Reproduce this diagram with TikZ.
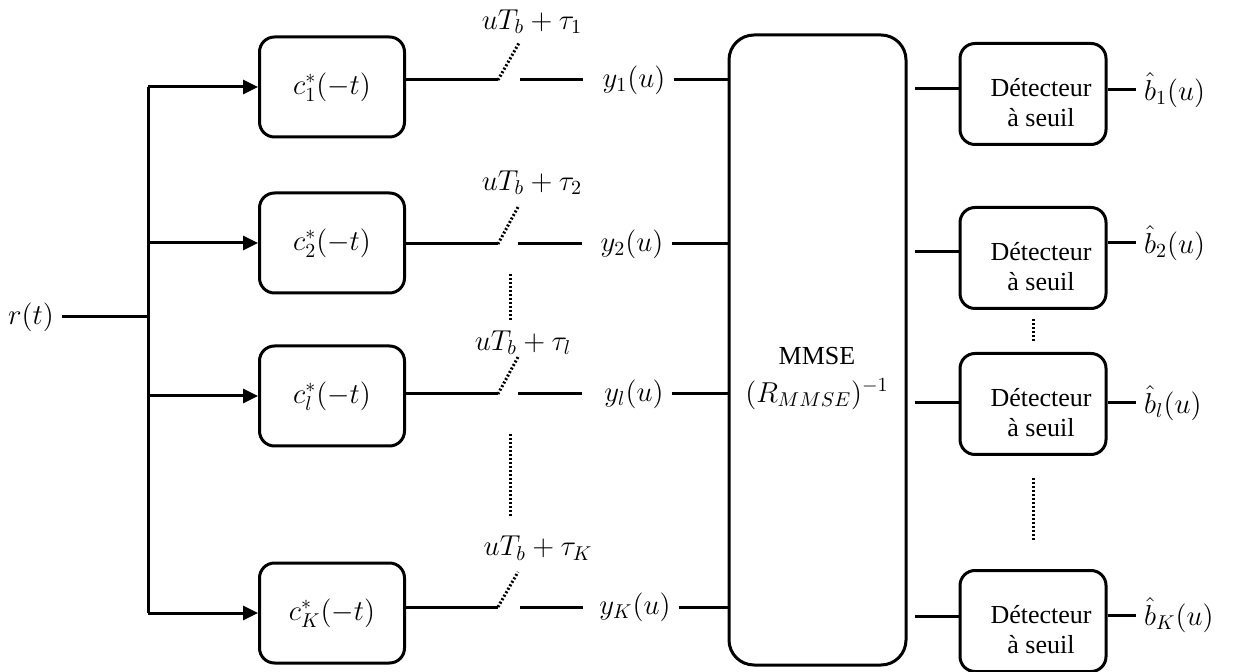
\documentclass[tikz,border=0pt]{standalone}
\usepackage{fontspec}
\setmainfont{Liberation Serif}
\usetikzlibrary{arrows.meta}

\begin{document}
\begin{tikzpicture}[x=0.5pt, y=-0.5pt, line width=1.5pt, font=\fontsize{13}{15}\selectfont,
		eq/.style={font=\fontsize{14.4}{17}\selectfont},
		filt/.style={draw, eq, rounded corners=7.5pt, minimum width=72.5pt, minimum height=50pt, inner sep=0pt},
		det/.style={draw, rounded corners=7.5pt, minimum width=73pt, minimum height=50.5pt, inner sep=0pt},
		dots/.style={dash pattern=on 1pt off 1pt},
		arr/.style={-{Triangle[length=7.5pt, width=7pt]}}]
			\useasboundingbox (0,0) rectangle (1234,672);

			% filtres adaptes
			\node[filt] (f1) at (332, 87) {$c_1^*(-t)$};
			\node[filt] (f2) at (332, 243) {$c_2^*(-t)$};
			\node[filt] (fl) at (332, 396) {$c_l^*(-t)$};
			\node[filt] (fK) at (332, 613) {$c_K^*(-t)$};

			\node[eq, anchor=east] (r) at (62, 317) {$r(t)$};
			\coordinate (br) at (148, 317);

			\draw (r) -- (br);
			\draw (br |- f1) -- (br |- fK);
			\draw[arr] (br |- f1) -- (f1);
			\draw[arr] (br |- f2) -- (f2);
			\draw[arr] (br |- fl) -- (fl);
			\draw[arr] (br |- fK) -- (fK);

			% echantillonneurs
			\coordinate (s1) at (498, 80);
			\coordinate (p1) at (519, 43);
			\coordinate (q1) at (520, 80);
			\coordinate (e1) at (583, 80);
			\coordinate (s2) at (498, 244);
			\coordinate (p2) at (518, 207);
			\coordinate (q2) at (518, 244);
			\coordinate (e2) at (582, 244);
			\coordinate (sl) at (498, 394);
			\coordinate (pl) at (518, 357);
			\coordinate (ql) at (518, 394);
			\coordinate (el) at (582, 394);
			\coordinate (sK) at (498, 607);
			\coordinate (pK) at (518, 572);
			\coordinate (qK) at (520, 607);
			\coordinate (eK) at (583, 607);

			\node[eq] (tau1) at (532, 22) {$uT_b+\tau_1$};
			\node[eq] (tau2) at (532, 183) {$uT_b+\tau_2$};
			\node[eq] (taul) at (523, 343) {$uT_b+\tau_l$};
			\node[eq] (tauK) at (538, 548) {$uT_b+\tau_K$};

			\draw (f1.east |- s1) -- (s1);
			\draw (f2.east |- s2) -- (s2);
			\draw (fl.east |- sl) -- (sl);
			\draw (fK.east |- sK) -- (sK);
			\draw[dots] (s1) -- (p1);
			\draw[dots] (s2) -- (p2);
			\draw[dots] (sl) -- (pl);
			\draw[dots] (sK) -- (pK);
			\draw (q1) -- (e1);
			\draw (q2) -- (e2);
			\draw (ql) -- (el);
			\draw (qK) -- (eK);

			\coordinate (v1) at (510, 274);
			\coordinate (v2) at (510, 322);
			\coordinate (v3) at (510, 434);
			\coordinate (v4) at (510, 517);
			\draw[dots] (v1) -- (v2);
			\draw[dots] (v3) -- (v4);

			% egaliseur MMSE
			\node[draw, rounded corners=12.5pt, minimum width=88.5pt, minimum height=315pt] (mmse) at (817.5, 350) {};
			\node (mt) at (817, 356) {MMSE};
			\node[eq] (mr) at (817, 394) {$(R_{MMSE})^{-1}$};

			\node[eq] (y1) at (634, 80) {$y_1(u)$};
			\node[eq] (y2) at (632, 244) {$y_2(u)$};
			\node[eq] (yl) at (634, 394) {$y_l(u)$};
			\node[eq] (yK) at (635, 607) {$y_K(u)$};

			\draw (y1) -- (y1 -| mmse.west);
			\draw (y2) -- (y2 -| mmse.west);
			\draw (yl) -- (yl -| mmse.west);
			\draw (yK) -- (yK -| mmse.west);

			% detecteurs
			\node[det] (d1) at (1033, 94) {};
			\node[det] (d2) at (1033, 258) {};
			\node[det] (dl) at (1033, 404) {};
			\node[det] (dK) at (1033, 621) {};

			\node[align=center] (d1t) at ([shift={(8,9)}]d1) {Détecteur\\à seuil};
			\node[align=center] (d2t) at ([shift={(8,9)}]d2) {Détecteur\\à seuil};
			\node[align=center] (dlt) at ([shift={(8,9)}]dl) {Détecteur\\à seuil};
			\node[align=center] (dKt) at ([shift={(8,9)}]dK) {Détecteur\\à seuil};

			\coordinate (m1) at (915, 89);
			\coordinate (m2) at (915, 252);
			\coordinate (ml) at (915, 403);
			\coordinate (mK) at (915, 616);
			\draw (m1) -- (m1 -| d1.west);
			\draw (m2) -- (m2 -| d2.west);
			\draw (ml) -- (ml -| dl.west);
			\draw (mK) -- (mK -| dK.west);

			\draw[dots, shorten <=4.5pt, shorten >=4.5pt] (d2.south) -- (dl.north);
			\draw[dots, shorten <=11pt, shorten >=13.5pt] (dl.south) -- (dK.north);

			\node[eq, anchor=west] (b1) at (1136, 90) {$\hat{b}_1(u)$};
			\node[eq, anchor=west] (b2) at (1136, 243) {$\hat{b}_2(u)$};
			\node[eq, anchor=west] (bl) at (1136, 403) {$\hat{b}_l(u)$};
			\node[eq, anchor=west] (bK) at (1136, 615) {$\hat{b}_K(u)$};

			\draw (d1.east |- b1.west) -- (b1.west);
			\draw (d2.east |- b2.west) -- (b2.west);
			\draw (dl.east |- bl.west) -- (bl.west);
			\draw (dK.east |- bK.west) -- (bK.west);
		\end{tikzpicture}
\end{document}
